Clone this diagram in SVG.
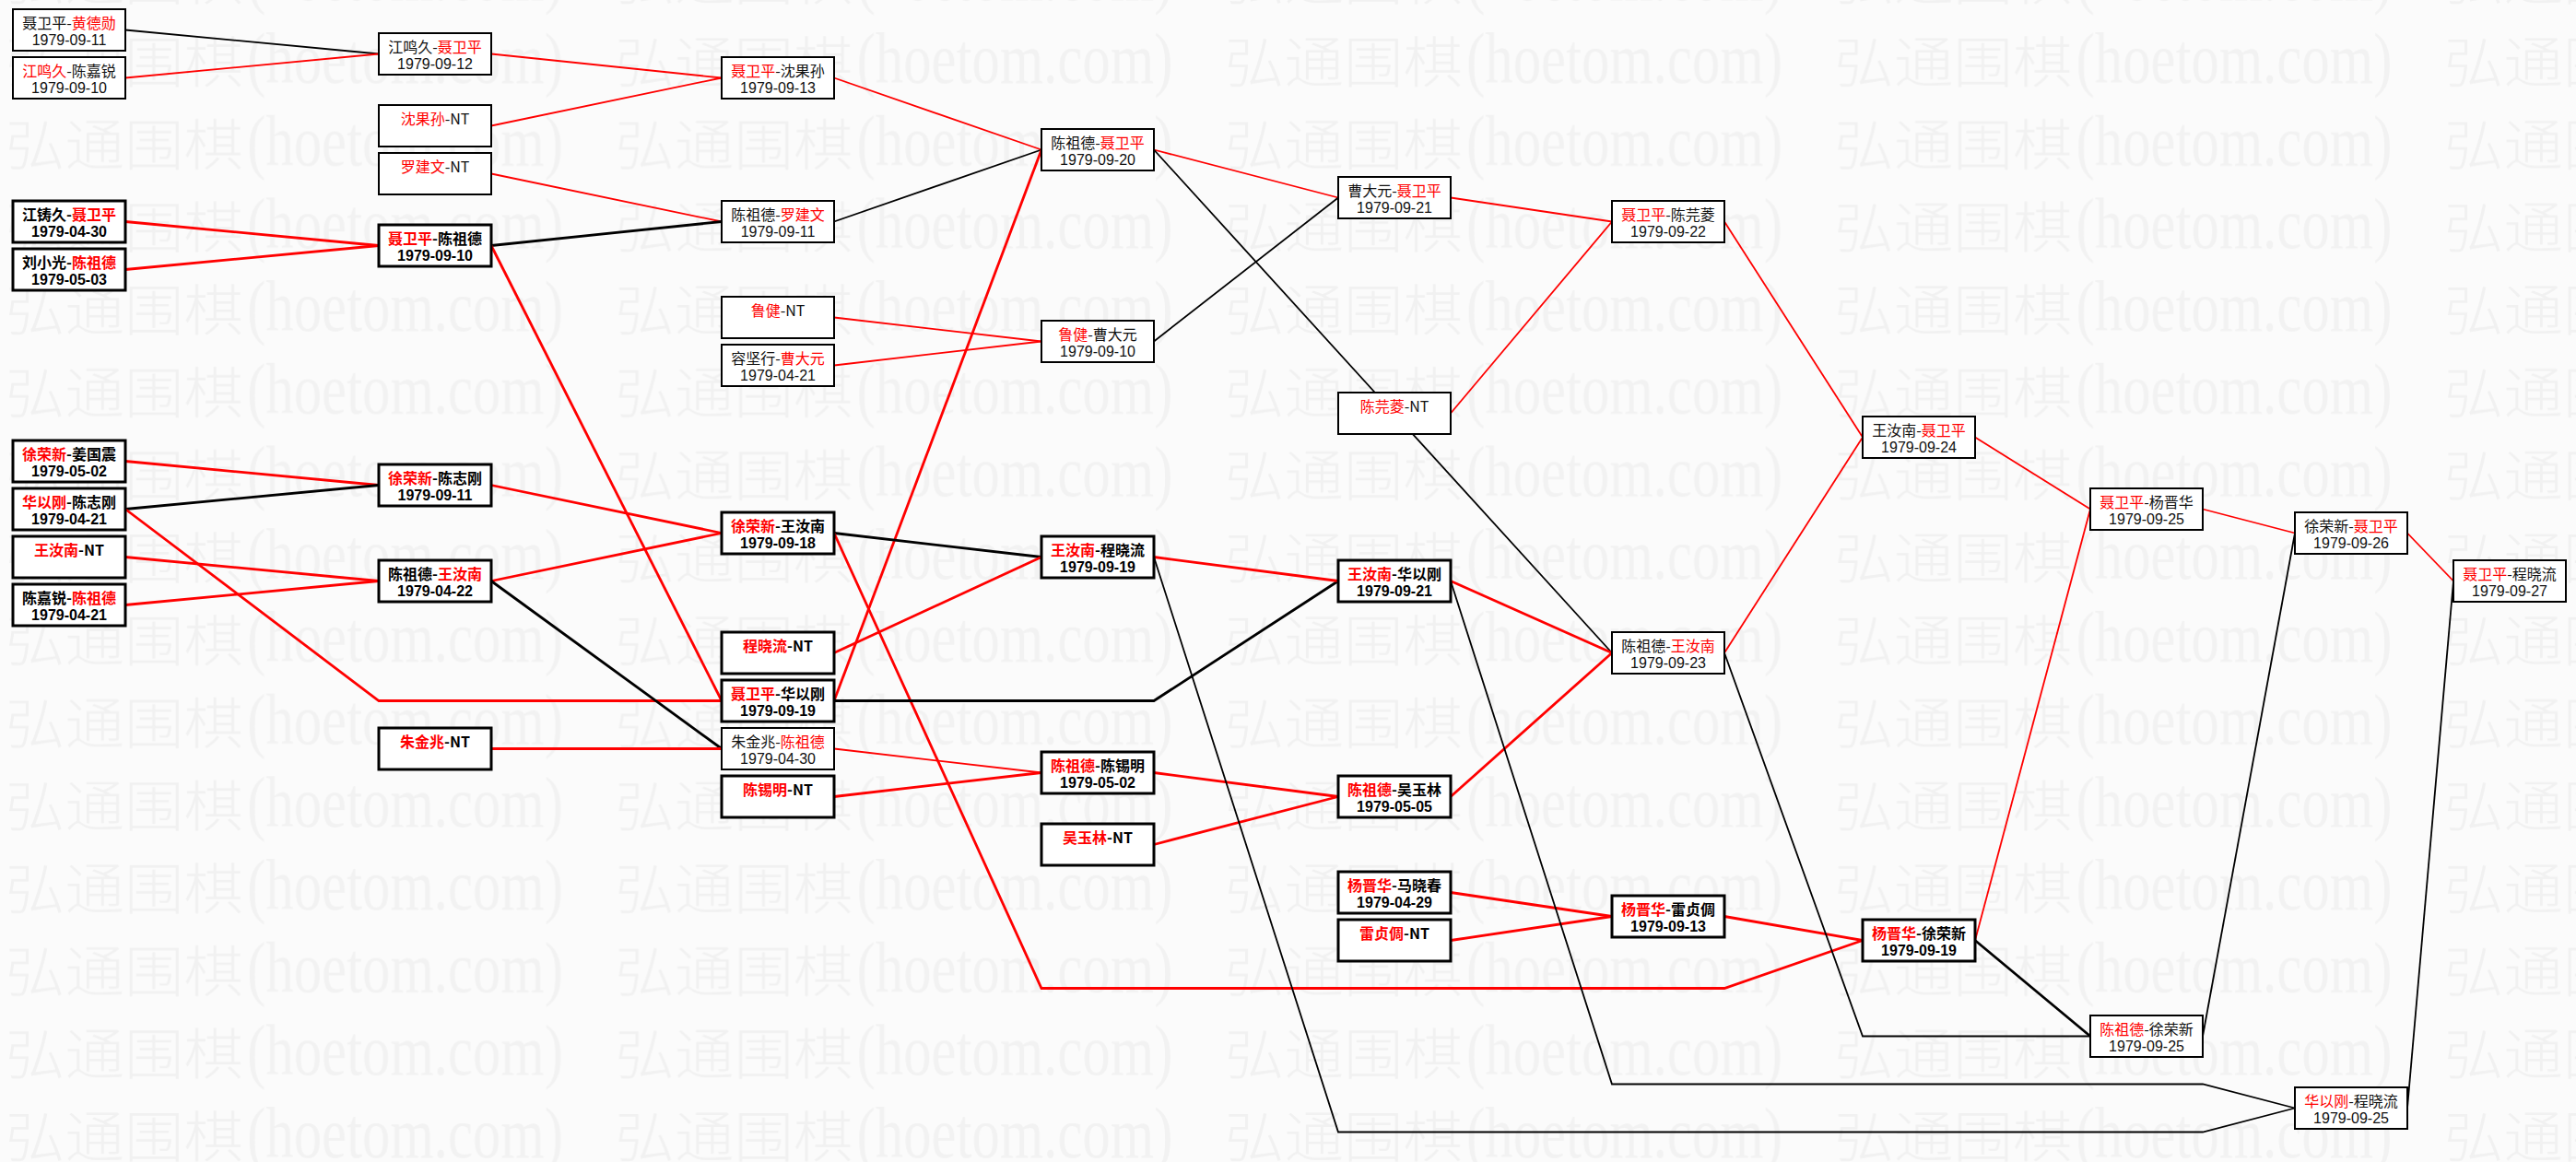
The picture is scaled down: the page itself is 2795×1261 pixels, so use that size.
<svg xmlns="http://www.w3.org/2000/svg" width="2795" height="1261" viewBox="0 0 2795 1261">
<style>
.node rect{fill:#fff;stroke:#000;stroke-width:2}
.node.t rect{stroke-width:3}
.node text{text-anchor:middle;fill:#111}
.nm{font-family:"Noto Sans CJK SC",sans-serif;font-size:16px}
.dt{font-family:"Liberation Sans",sans-serif;font-size:16px}
.node.t text{font-weight:bold;fill:#000}
.r{fill:#f00}
.node text .r{fill:#f00}
#edges path{fill:none;stroke-linejoin:miter}
.er{stroke:#f00;stroke-width:1.8}
.ert{stroke:#f00;stroke-width:2.8}
.ek{stroke:#000;stroke-width:1.8}
.ekt{stroke:#000;stroke-width:2.8}
.wc{font-family:"Noto Sans CJK SC",sans-serif;font-size:60px;font-weight:300;fill:#f1f1f1}
.wl{font-family:"Liberation Serif",serif;font-size:78px;fill:#f2f2f2}
</style>
<defs>
<pattern id="wmp" patternUnits="userSpaceOnUse" x="4" y="20" width="661.5" height="89.7">
<text class="wc" x="2" y="70" textLength="258" lengthAdjust="spacingAndGlyphs">弘通围棋</text>
<text class="wl" x="264" y="70" textLength="343" lengthAdjust="spacingAndGlyphs">(hoetom.com)</text>
</pattern>
</defs>
<rect x="0" y="0" width="2795" height="1261" fill="#fbfbfb"/>
<rect id="watermark" x="0" y="0" width="2795" height="1261" fill="url(#wmp)"/>
<g id="edges">
<path class="ek" d="M136 32.5L411 58.5"/>
<path class="er" d="M136 84.5L411 58.5"/>
<path class="ert" d="M136 240.5L411 266.5"/>
<path class="ert" d="M136 292.5L411 266.5"/>
<path class="ert" d="M136 500.5L411 526.5"/>
<path class="ekt" d="M136 552.5L411 526.5"/>
<path class="ert" d="M136 604.5L411 630.5"/>
<path class="ert" d="M136 656.5L411 630.5"/>
<path class="ert" d="M136 552.5L411 760.5L783 760.5"/>
<path class="er" d="M533 58.5L783 84.5"/>
<path class="er" d="M533 136.5L783 84.5"/>
<path class="er" d="M533 188.5L783 240.5"/>
<path class="ekt" d="M533 266.5L783 240.5"/>
<path class="ert" d="M533 266.5L783 760.5"/>
<path class="ert" d="M533 526.5L783 578.5"/>
<path class="ert" d="M533 630.5L783 578.5"/>
<path class="ekt" d="M533 630.5L783 812.5"/>
<path class="ert" d="M533 812.5L783 812.5"/>
<path class="er" d="M905 84.5L1130 162.5"/>
<path class="ek" d="M905 240.5L1130 162.5"/>
<path class="er" d="M905 344.5L1130 370.5"/>
<path class="er" d="M905 396.5L1130 370.5"/>
<path class="ert" d="M905 760.5L1130 162.5"/>
<path class="ekt" d="M905 578.5L1130 604.5"/>
<path class="ert" d="M905 708.5L1130 604.5"/>
<path class="er" d="M905 812.5L1130 838.5"/>
<path class="ert" d="M905 864.5L1130 838.5"/>
<path class="ert" d="M905 578.5L1130 1072.5L1871 1072.5L2021 1020.5"/>
<path class="ekt" d="M905 760.5L1252 760.5L1452 630.5"/>
<path class="er" d="M1252 162.5L1452 214.5"/>
<path class="ek" d="M1252 370.5L1452 214.5"/>
<path class="ert" d="M1252 604.5L1452 630.5"/>
<path class="ert" d="M1252 838.5L1452 864.5"/>
<path class="ert" d="M1252 916.5L1452 864.5"/>
<path class="ek" d="M1252 162.5L1749 708.5"/>
<path class="ek" d="M1252 604.5L1452 1228.5L2390 1228.5L2490 1202.5"/>
<path class="er" d="M1574 214.5L1749 240.5"/>
<path class="er" d="M1574 448.5L1749 240.5"/>
<path class="ert" d="M1574 630.5L1749 708.5"/>
<path class="ert" d="M1574 864.5L1749 708.5"/>
<path class="ert" d="M1574 968.5L1749 994.5"/>
<path class="ert" d="M1574 1020.5L1749 994.5"/>
<path class="ek" d="M1574 630.5L1749 1176.5L2390 1176.5L2490 1202.5"/>
<path class="er" d="M1871 240.5L2021 474.5"/>
<path class="er" d="M1871 708.5L2021 474.5"/>
<path class="ert" d="M1871 994.5L2021 1020.5"/>
<path class="ek" d="M1871 708.5L2021 1124.5L2268 1124.5"/>
<path class="er" d="M2143 474.5L2268 552.5"/>
<path class="er" d="M2143 1020.5L2268 552.5"/>
<path class="ekt" d="M2143 1020.5L2268 1124.5"/>
<path class="er" d="M2390 552.5L2490 578.5"/>
<path class="ek" d="M2390 1124.5L2490 578.5"/>
<path class="er" d="M2612 578.5L2662 630.5"/>
<path class="ek" d="M2612 1202.5L2662 630.5"/>
</g>
<g id="n1" class="node"><rect x="14" y="10" width="122" height="45"/><text class="nm" x="75" y="31">聂卫平-<tspan class="r">黄德勋</tspan></text><text class="dt" x="75" y="49">1979-09-11</text></g>
<g id="n2" class="node"><rect x="14" y="62" width="122" height="45"/><text class="nm" x="75" y="83"><tspan class="r">江鸣久</tspan>-陈嘉锐</text><text class="dt" x="75" y="101">1979-09-10</text></g>
<g id="n3" class="node t"><rect x="14" y="218" width="122" height="45"/><text class="nm" x="75" y="239">江铸久-<tspan class="r">聂卫平</tspan></text><text class="dt" x="75" y="257">1979-04-30</text></g>
<g id="n4" class="node t"><rect x="14" y="270" width="122" height="45"/><text class="nm" x="75" y="291">刘小光-<tspan class="r">陈祖德</tspan></text><text class="dt" x="75" y="309">1979-05-03</text></g>
<g id="n5" class="node t"><rect x="14" y="478" width="122" height="45"/><text class="nm" x="75" y="499"><tspan class="r">徐荣新</tspan>-姜国震</text><text class="dt" x="75" y="517">1979-05-02</text></g>
<g id="n6" class="node t"><rect x="14" y="530" width="122" height="45"/><text class="nm" x="75" y="551"><tspan class="r">华以刚</tspan>-陈志刚</text><text class="dt" x="75" y="569">1979-04-21</text></g>
<g id="n7" class="node t"><rect x="14" y="582" width="122" height="45"/><text class="nm" x="75" y="603"><tspan class="r">王汝南</tspan>-NT</text></g>
<g id="n8" class="node t"><rect x="14" y="634" width="122" height="45"/><text class="nm" x="75" y="655">陈嘉锐-<tspan class="r">陈祖德</tspan></text><text class="dt" x="75" y="673">1979-04-21</text></g>
<g id="n9" class="node"><rect x="411" y="36" width="122" height="45"/><text class="nm" x="472" y="57">江鸣久-<tspan class="r">聂卫平</tspan></text><text class="dt" x="472" y="75">1979-09-12</text></g>
<g id="n10" class="node"><rect x="411" y="114" width="122" height="45"/><text class="nm" x="472" y="135"><tspan class="r">沈果孙</tspan>-NT</text></g>
<g id="n11" class="node"><rect x="411" y="166" width="122" height="45"/><text class="nm" x="472" y="187"><tspan class="r">罗建文</tspan>-NT</text></g>
<g id="n12" class="node t"><rect x="411" y="244" width="122" height="45"/><text class="nm" x="472" y="265"><tspan class="r">聂卫平</tspan>-陈祖德</text><text class="dt" x="472" y="283">1979-09-10</text></g>
<g id="n13" class="node t"><rect x="411" y="504" width="122" height="45"/><text class="nm" x="472" y="525"><tspan class="r">徐荣新</tspan>-陈志刚</text><text class="dt" x="472" y="543">1979-09-11</text></g>
<g id="n14" class="node t"><rect x="411" y="608" width="122" height="45"/><text class="nm" x="472" y="629">陈祖德-<tspan class="r">王汝南</tspan></text><text class="dt" x="472" y="647">1979-04-22</text></g>
<g id="n15" class="node t"><rect x="411" y="790" width="122" height="45"/><text class="nm" x="472" y="811"><tspan class="r">朱金兆</tspan>-NT</text></g>
<g id="n16" class="node"><rect x="783" y="62" width="122" height="45"/><text class="nm" x="844" y="83"><tspan class="r">聂卫平</tspan>-沈果孙</text><text class="dt" x="844" y="101">1979-09-13</text></g>
<g id="n17" class="node"><rect x="783" y="218" width="122" height="45"/><text class="nm" x="844" y="239">陈祖德-<tspan class="r">罗建文</tspan></text><text class="dt" x="844" y="257">1979-09-11</text></g>
<g id="n18" class="node"><rect x="783" y="322" width="122" height="45"/><text class="nm" x="844" y="343"><tspan class="r">鲁健</tspan>-NT</text></g>
<g id="n19" class="node"><rect x="783" y="374" width="122" height="45"/><text class="nm" x="844" y="395">容坚行-<tspan class="r">曹大元</tspan></text><text class="dt" x="844" y="413">1979-04-21</text></g>
<g id="n20" class="node t"><rect x="783" y="556" width="122" height="45"/><text class="nm" x="844" y="577"><tspan class="r">徐荣新</tspan>-王汝南</text><text class="dt" x="844" y="595">1979-09-18</text></g>
<g id="n21" class="node t"><rect x="783" y="686" width="122" height="45"/><text class="nm" x="844" y="707"><tspan class="r">程晓流</tspan>-NT</text></g>
<g id="n22" class="node t"><rect x="783" y="738" width="122" height="45"/><text class="nm" x="844" y="759"><tspan class="r">聂卫平</tspan>-华以刚</text><text class="dt" x="844" y="777">1979-09-19</text></g>
<g id="n23" class="node"><rect x="783" y="790" width="122" height="45"/><text class="nm" x="844" y="811">朱金兆-<tspan class="r">陈祖德</tspan></text><text class="dt" x="844" y="829">1979-04-30</text></g>
<g id="n24" class="node t"><rect x="783" y="842" width="122" height="45"/><text class="nm" x="844" y="863"><tspan class="r">陈锡明</tspan>-NT</text></g>
<g id="n25" class="node"><rect x="1130" y="140" width="122" height="45"/><text class="nm" x="1191" y="161">陈祖德-<tspan class="r">聂卫平</tspan></text><text class="dt" x="1191" y="179">1979-09-20</text></g>
<g id="n26" class="node"><rect x="1130" y="348" width="122" height="45"/><text class="nm" x="1191" y="369"><tspan class="r">鲁健</tspan>-曹大元</text><text class="dt" x="1191" y="387">1979-09-10</text></g>
<g id="n27" class="node t"><rect x="1130" y="582" width="122" height="45"/><text class="nm" x="1191" y="603"><tspan class="r">王汝南</tspan>-程晓流</text><text class="dt" x="1191" y="621">1979-09-19</text></g>
<g id="n28" class="node t"><rect x="1130" y="816" width="122" height="45"/><text class="nm" x="1191" y="837"><tspan class="r">陈祖德</tspan>-陈锡明</text><text class="dt" x="1191" y="855">1979-05-02</text></g>
<g id="n29" class="node t"><rect x="1130" y="894" width="122" height="45"/><text class="nm" x="1191" y="915"><tspan class="r">吴玉林</tspan>-NT</text></g>
<g id="n30" class="node"><rect x="1452" y="192" width="122" height="45"/><text class="nm" x="1513" y="213">曹大元-<tspan class="r">聂卫平</tspan></text><text class="dt" x="1513" y="231">1979-09-21</text></g>
<g id="n31" class="node"><rect x="1452" y="426" width="122" height="45"/><text class="nm" x="1513" y="447"><tspan class="r">陈芫菱</tspan>-NT</text></g>
<g id="n32" class="node t"><rect x="1452" y="608" width="122" height="45"/><text class="nm" x="1513" y="629"><tspan class="r">王汝南</tspan>-华以刚</text><text class="dt" x="1513" y="647">1979-09-21</text></g>
<g id="n33" class="node t"><rect x="1452" y="842" width="122" height="45"/><text class="nm" x="1513" y="863"><tspan class="r">陈祖德</tspan>-吴玉林</text><text class="dt" x="1513" y="881">1979-05-05</text></g>
<g id="n34" class="node t"><rect x="1452" y="946" width="122" height="45"/><text class="nm" x="1513" y="967"><tspan class="r">杨晋华</tspan>-马晓春</text><text class="dt" x="1513" y="985">1979-04-29</text></g>
<g id="n35" class="node t"><rect x="1452" y="998" width="122" height="45"/><text class="nm" x="1513" y="1019"><tspan class="r">雷贞倜</tspan>-NT</text></g>
<g id="n36" class="node"><rect x="1749" y="218" width="122" height="45"/><text class="nm" x="1810" y="239"><tspan class="r">聂卫平</tspan>-陈芫菱</text><text class="dt" x="1810" y="257">1979-09-22</text></g>
<g id="n37" class="node"><rect x="1749" y="686" width="122" height="45"/><text class="nm" x="1810" y="707">陈祖德-<tspan class="r">王汝南</tspan></text><text class="dt" x="1810" y="725">1979-09-23</text></g>
<g id="n38" class="node t"><rect x="1749" y="972" width="122" height="45"/><text class="nm" x="1810" y="993"><tspan class="r">杨晋华</tspan>-雷贞倜</text><text class="dt" x="1810" y="1011">1979-09-13</text></g>
<g id="n39" class="node"><rect x="2021" y="452" width="122" height="45"/><text class="nm" x="2082" y="473">王汝南-<tspan class="r">聂卫平</tspan></text><text class="dt" x="2082" y="491">1979-09-24</text></g>
<g id="n40" class="node t"><rect x="2021" y="998" width="122" height="45"/><text class="nm" x="2082" y="1019"><tspan class="r">杨晋华</tspan>-徐荣新</text><text class="dt" x="2082" y="1037">1979-09-19</text></g>
<g id="n41" class="node"><rect x="2268" y="530" width="122" height="45"/><text class="nm" x="2329" y="551"><tspan class="r">聂卫平</tspan>-杨晋华</text><text class="dt" x="2329" y="569">1979-09-25</text></g>
<g id="n42" class="node"><rect x="2268" y="1102" width="122" height="45"/><text class="nm" x="2329" y="1123"><tspan class="r">陈祖德</tspan>-徐荣新</text><text class="dt" x="2329" y="1141">1979-09-25</text></g>
<g id="n43" class="node"><rect x="2490" y="556" width="122" height="45"/><text class="nm" x="2551" y="577">徐荣新-<tspan class="r">聂卫平</tspan></text><text class="dt" x="2551" y="595">1979-09-26</text></g>
<g id="n44" class="node"><rect x="2490" y="1180" width="122" height="45"/><text class="nm" x="2551" y="1201"><tspan class="r">华以刚</tspan>-程晓流</text><text class="dt" x="2551" y="1219">1979-09-25</text></g>
<g id="n45" class="node"><rect x="2662" y="608" width="122" height="45"/><text class="nm" x="2723" y="629"><tspan class="r">聂卫平</tspan>-程晓流</text><text class="dt" x="2723" y="647">1979-09-27</text></g>
</svg>
